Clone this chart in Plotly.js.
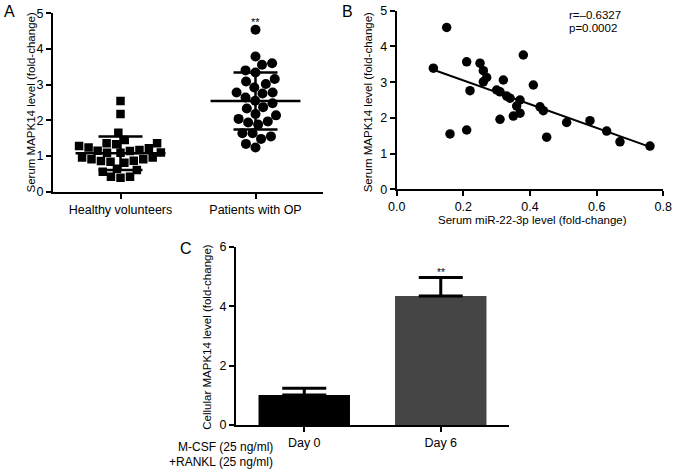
<!DOCTYPE html>
<html>
<head>
<meta charset="utf-8">
<script src="https://cdn.plot.ly/plotly-3.0.1.min.js"></script>
<style>html,body{margin:0;padding:0;background:#fff;}#chart{width:677px;height:472px;}</style>
</head>
<body>
<div id="chart"></div>
<script>
// ---------- Panel A data ----------
const groupLabels = ['Healthy volunteers', 'Patients with OP'];
const healthy = [2.54, 2.18, 1.65, 1.45, 1.36, 1.28, 1.22, 1.15, 1.24, 1.33,
                 1.36, 1.09, 1.17, 1.10, 1.14, 1.09, 0.96, 0.91, 0.87, 0.84,
                 0.81, 0.86, 0.91, 0.96, 0.61, 0.56, 0.64, 0.42, 0.39, 0.42];
const patients = [4.54, 3.79, 3.56, 3.60, 3.34, 3.40, 3.16, 3.09, 3.02, 2.92,
                  2.78, 2.75, 2.78, 2.64, 2.48, 2.55, 2.37, 2.33, 2.14, 2.18,
                  2.04, 1.97, 1.94, 1.88, 1.64, 1.64, 1.48, 1.55, 1.34, 1.24];
const groupMeans = [1.08, 2.54];
const groupSD = [0.47, 0.80];

// ---------- Panel B data ----------
const mirLevel = [0.11, 0.15, 0.21, 0.25, 0.26, 0.27, 0.26, 0.22, 0.32, 0.30,
                  0.31, 0.33, 0.34, 0.37, 0.36, 0.38, 0.41, 0.43, 0.44, 0.31,
                  0.35, 0.37, 0.45, 0.21, 0.16, 0.51, 0.58, 0.63, 0.67, 0.76];
const mapkLevel = [3.39, 4.53, 3.57, 3.53, 3.32, 3.13, 3.01, 2.76, 3.06, 2.78,
                   2.73, 2.61, 2.55, 2.50, 2.33, 3.76, 2.92, 2.31, 2.20, 1.96,
                   2.05, 2.13, 1.46, 1.66, 1.55, 1.87, 1.92, 1.63, 1.33, 1.21];
const corrText = ['r=\u20130.6327', 'p=0.0002'];

// ---------- Panel C data ----------
const dayLabels = ['Day 0', 'Day 6'];
const cellMean = [1.01, 4.34];
const cellSD = [0.23, 0.62];
const treatLabels = ['M-CSF (25 ng/ml)', '+RANKL (25 ng/ml)'];

// ---------- helpers ----------
const W = 677, H = 472;
const px = v => v / W;
const py = v => 1 - v / H;

// simple beeswarm: spreads points horizontally so markers do not overlap
function swarm(vals, center, xPxPerUnit, yPxPerUnit, diam) {
  const order = vals.map((v, i) => i).sort((a, b) => vals[a] - vals[b]);
  const placed = [];
  const xs = new Array(vals.length);
  for (const i of order) {
    const y = vals[i] * yPxPerUnit;
    const excl = [];
    for (const p of placed) {
      const dy = Math.abs(p.y - y);
      if (dy < diam) {
        const dx = Math.sqrt(diam * diam - dy * dy);
        excl.push([p.x - dx, p.x + dx]);
      }
    }
    const cands = [0];
    excl.forEach(e => { cands.push(e[0], e[1]); });
    cands.sort((a, b) => Math.abs(a) - Math.abs(b) || a - b);
    let xp = 0;
    for (const c of cands) {
      if (excl.every(e => c <= e[0] + 1e-6 || c >= e[1] - 1e-6)) { xp = c; break; }
    }
    placed.push({ x: xp, y: y });
    xs[i] = center + xp / xPxPerUnit;
  }
  return xs;
}

// axis geometry (pixels)
const A = { x0: 53, x1: 323, y0: 191.7, y1: 13.3 };
const B = { x0: 396.7, x1: 663.3, y0: 189.3, y1: 10.7 };
const C = { x0: 236, x1: 509, y0: 425, y1: 246.7 };

const aXpu = (A.x1 - A.x0) / 2;
const aYpu = (A.y0 - A.y1) / 5;
const healthyX = swarm(healthy, 0, aXpu, aYpu, 9.6);
const patientsX = swarm(patients, 1, aXpu, aYpu, 10.2);

// linear regression for panel B
const n = mirLevel.length;
const mx = mirLevel.reduce((s, v) => s + v, 0) / n;
const my = mapkLevel.reduce((s, v) => s + v, 0) / n;
let sxy = 0, sxx = 0;
for (let i = 0; i < n; i++) { sxy += (mirLevel[i] - mx) * (mapkLevel[i] - my); sxx += (mirLevel[i] - mx) ** 2; }
const slope = sxy / sxx, icpt = my - slope * mx;
const xmin = Math.min(...mirLevel), xmax = Math.max(...mirLevel);

const font = 'Liberation Sans, Arial, sans-serif';

const traces = [
  { type: 'scatter', mode: 'markers', x: healthyX, y: healthy, xaxis: 'x', yaxis: 'y',
    marker: { symbol: 'square', size: 8.5, color: '#000' }, hoverinfo: 'y' },
  { type: 'scatter', mode: 'markers', x: patientsX, y: patients, xaxis: 'x', yaxis: 'y',
    marker: { symbol: 'circle', size: 10, color: '#000' }, hoverinfo: 'y' },
  { type: 'scatter', mode: 'markers', x: [0, 1], y: groupMeans, xaxis: 'x', yaxis: 'y',
    marker: { size: 0.1, color: 'rgba(0,0,0,0)' },
    error_y: { type: 'data', array: groupSD, visible: true, color: '#000', thickness: 2.5, width: 22 },
    error_x: { type: 'constant', value: 0.333, visible: true, color: '#000', thickness: 2.5, width: 0 },
    hoverinfo: 'y' },
  { type: 'scatter', mode: 'markers', x: mirLevel, y: mapkLevel, xaxis: 'x2', yaxis: 'y2',
    marker: { symbol: 'circle', size: 9.5, color: '#000' } },
  { type: 'scatter', mode: 'lines', x: [xmin, xmax], y: [icpt + slope * xmin, icpt + slope * xmax],
    xaxis: 'x2', yaxis: 'y2', line: { color: '#000', width: 2 }, hoverinfo: 'skip' },
  { type: 'bar', x: [0, 1], y: cellMean, xaxis: 'x3', yaxis: 'y3', width: 0.67,
    marker: { color: ['#000000', '#454545'], line: { width: 0 } },
    error_y: { type: 'data', symmetric: false, array: cellSD, arrayminus: [0, 0], visible: true,
               color: '#000', thickness: 3, width: 22 } }
];

const axBase = {
  showline: true, linecolor: '#000', linewidth: 2, ticks: 'outside', ticklen: 5,
  tickwidth: 2, tickcolor: '#000', showgrid: false, zeroline: false,
  tickfont: { family: font, size: 12.5, color: '#000' }, fixedrange: true
};

function note(text, x, y, opts) {
  return Object.assign({ text: text, xref: 'paper', yref: 'paper', x: px(x), y: py(y),
    xanchor: 'center', yanchor: 'middle', showarrow: false,
    font: { family: font, size: 11.5, color: '#000' } }, opts || {});
}

const layout = {
  width: W, height: H, margin: { l: 0, r: 0, t: 0, b: 0 },
  paper_bgcolor: '#fff', plot_bgcolor: 'rgba(0,0,0,0)', showlegend: false,
  font: { family: font, color: '#000' },
  xaxis: Object.assign({}, axBase, { domain: [px(A.x0), px(A.x1)], range: [-0.5, 1.5],
    tickvals: [0, 1], ticktext: groupLabels, anchor: 'y' }),
  yaxis: Object.assign({}, axBase, { domain: [py(A.y0), py(A.y1)], range: [0, 5], dtick: 1, anchor: 'x' }),
  xaxis2: Object.assign({}, axBase, { domain: [px(B.x0), px(B.x1)], range: [0, 0.8], dtick: 0.2,
    tickformat: '.1f', anchor: 'y2' }),
  yaxis2: Object.assign({}, axBase, { domain: [py(B.y0), py(B.y1)], range: [0, 5], dtick: 1, anchor: 'x2' }),
  xaxis3: Object.assign({}, axBase, { domain: [px(C.x0), px(C.x1)], range: [-0.5, 1.5],
    tickvals: [0, 1], ticktext: dayLabels, anchor: 'y3' }),
  yaxis3: Object.assign({}, axBase, { domain: [py(C.y0), py(C.y1)], range: [0, 6], dtick: 2, anchor: 'x3' }),
  annotations: [
    note('A', 9.5, 11.5, { font: { family: font, size: 16, color: '#000' } }),
    note('B', 347.5, 11.5, { font: { family: font, size: 16, color: '#000' } }),
    note('C', 186, 248, { font: { family: font, size: 16, color: '#000' } }),
    note('Serum MAPK14 level (fold-change)', 30, 102.5, { textangle: -90 }),
    note('Serum MAPK14 level (fold-change)', 368.3, 102, { textangle: -90 }),
    note('Serum miR-22-3p level (fold-change)', 532, 220),
    note('Cellular MAPK14 level (fold-change)', 206.7, 337, { textangle: -90 }),
    note(corrText[0], 566.7, 15, { xanchor: 'left' }),
    note(corrText[1], 566.7, 28.3, { xanchor: 'left' }),
    note(treatLabels[0], 226, 446.7, { font: { family: font, size: 12, color: '#000' } }),
    note(treatLabels[1], 220.5, 461.7, { font: { family: font, size: 12, color: '#000' } }),
    { text: '**', xref: 'x', yref: 'y', x: 1, y: Math.max(...patients), xanchor: 'center', yanchor: 'bottom',
      showarrow: false, font: { family: font, size: 11, color: '#000' } },
    { text: '**', xref: 'x3', yref: 'y3', x: 1, y: cellMean[1] + cellSD[1], xanchor: 'center', yanchor: 'bottom',
      yshift: -2, showarrow: false, font: { family: font, size: 10, color: '#000' } }
  ]
};

Plotly.newPlot('chart', traces, layout, { staticPlot: true, displayModeBar: false });
</script>
</body>
</html>
